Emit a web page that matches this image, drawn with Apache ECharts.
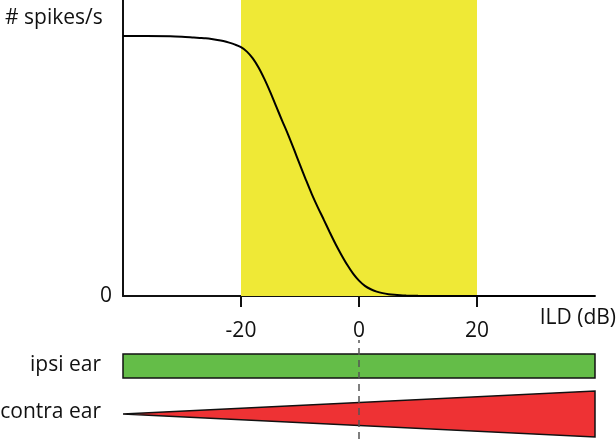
<!DOCTYPE html>
<html>
<head>
<meta charset="utf-8">
<script src="https://cdn.jsdelivr.net/npm/echarts@6/dist/echarts.min.js"></script>
<style>html,body{margin:0;padding:0;background:#fff}#c{width:616px;height:439px}</style>
</head>
<body>
<div id="c"></div>
<script>
// ILD values (dB) and firing rate (arbitrary units, 100 = plateau)
const ild = [-40,-36,-32,-30,-28,-27,-26,-25,-24,-23,-22,-21,-20,-19,-18,-17,-16,-15,-14,-13,-12,-11,-10,
             -9,-8,-7,-6,-5,-4,-3,-2,-1,0,1,2,3,4,5,6,7,8,9,10,12,14,20,30,40];
const rate = [100,100,99.9,99.7,99.4,99.25,99.1,98.85,98.5,98.05,97.45,96.7,95.7,94.0,91.4,87.8,83.3,78.2,72.7,67.3,62.0,56.3,50.4,
              44.7,39.2,34.2,29.5,24.7,20.1,15.9,12.0,8.6,5.9,3.9,2.6,1.7,1.1,0.7,0.45,0.28,0.17,0.1,0.05,0.01,0,0,0,0];
// highlighted ILD range
const bandRange = [-20, 20];
// x tick labels
const xTicks = [-20, 0, 20];
// ear level indicators along ILD
const earDb = [-40, 40];
const ipsiLevel = [1, 1];
const contraLevel = [0, 1];

const FONT = '"Open Sans", "Liberation Sans", sans-serif';
const FS = 21;
const chart = echarts.init(document.getElementById('c'), null, {renderer: 'canvas'});

function bandSeries(levels, center, half, color) {
  return {
    type: 'custom', xAxisIndex: 1, yAxisIndex: 1, silent: true,
    data: [0],
    renderItem: function (params, api) {
      const pts = [];
      for (let i = 0; i < earDb.length; i++) pts.push(api.coord([earDb[i], center + levels[i] * half]));
      for (let i = earDb.length - 1; i >= 0; i--) pts.push(api.coord([earDb[i], center - levels[i] * half]));
      return {type: 'polygon', shape: {points: pts}, style: {fill: color, stroke: '#111', lineWidth: 1.5, lineJoin: 'miter'}};
    }
  };
}

function label(text, x, y, align) {
  return {type: 'text', x: x, y: y, z: 20,
    style: {text: text, font: FS + 'px ' + FONT, fill: '#111', textAlign: align, textVerticalAlign: 'middle'}};
}

chart.setOption({
  animation: false,
  grid: [
    {left: 123, top: 0, width: 472, height: 296},
    {left: 123, top: 340, width: 472, height: 99}
  ],
  xAxis: [
    {type: 'value', gridIndex: 0, min: -40, max: 40,
     axisLine: {show: true, onZero: false, lineStyle: {color: '#111', width: 2}},
     axisTick: {show: true, customValues: xTicks, length: 11, lineStyle: {color: '#111', width: 2}},
     axisLabel: {show: true, customValues: xTicks, margin: 25, color: '#111', fontSize: FS, fontFamily: FONT},
     splitLine: {show: false}},
    {type: 'value', gridIndex: 1, min: -40, max: 40, show: false}
  ],
  yAxis: [
    {type: 'value', gridIndex: 0, min: 0, max: 113.85, interval: 1000,
     axisLine: {show: true, onZero: false, lineStyle: {color: '#111', width: 2}},
     axisTick: {show: false},
     axisLabel: {show: true, showMaxLabel: false, margin: 11, color: '#111', fontSize: FS, fontFamily: FONT,
       formatter: v => (v === 0 ? '0' : '')},
     splitLine: {show: false}},
    {type: 'value', gridIndex: 1, min: 0, max: 99, show: false}
  ],
  series: [
    {type: 'line', xAxisIndex: 0, yAxisIndex: 0, data: ild.map((x, i) => [x, rate[i]]),
     smooth: 0.3, symbol: 'none', lineStyle: {color: '#000', width: 2}, z: 3,
     markArea: {silent: true, itemStyle: {color: '#EFE936'}, data: [[{xAxis: bandRange[0]}, {xAxis: bandRange[1]}]]}},
    bandSeries(ipsiLevel, 73, 12, '#64BD48'),
    Object.assign(bandSeries(contraLevel, 25, 23, '#EE3234'), {
      markLine: {silent: true, symbol: 'none', label: {show: false}, z: 10,
        lineStyle: {color: '#555', width: 1.5, type: [7, 5]},
        data: [{xAxis: 0}]}
    })
  ],
  graphic: [
    label('# spikes/s', 5, 18, 'left'),
    label('ILD (dB)', 616, 318, 'right'),
    label('ipsi ear', 101, 365, 'right'),
    label('contra ear', 101, 412, 'right')
  ]
});
</script>
</body>
</html>
